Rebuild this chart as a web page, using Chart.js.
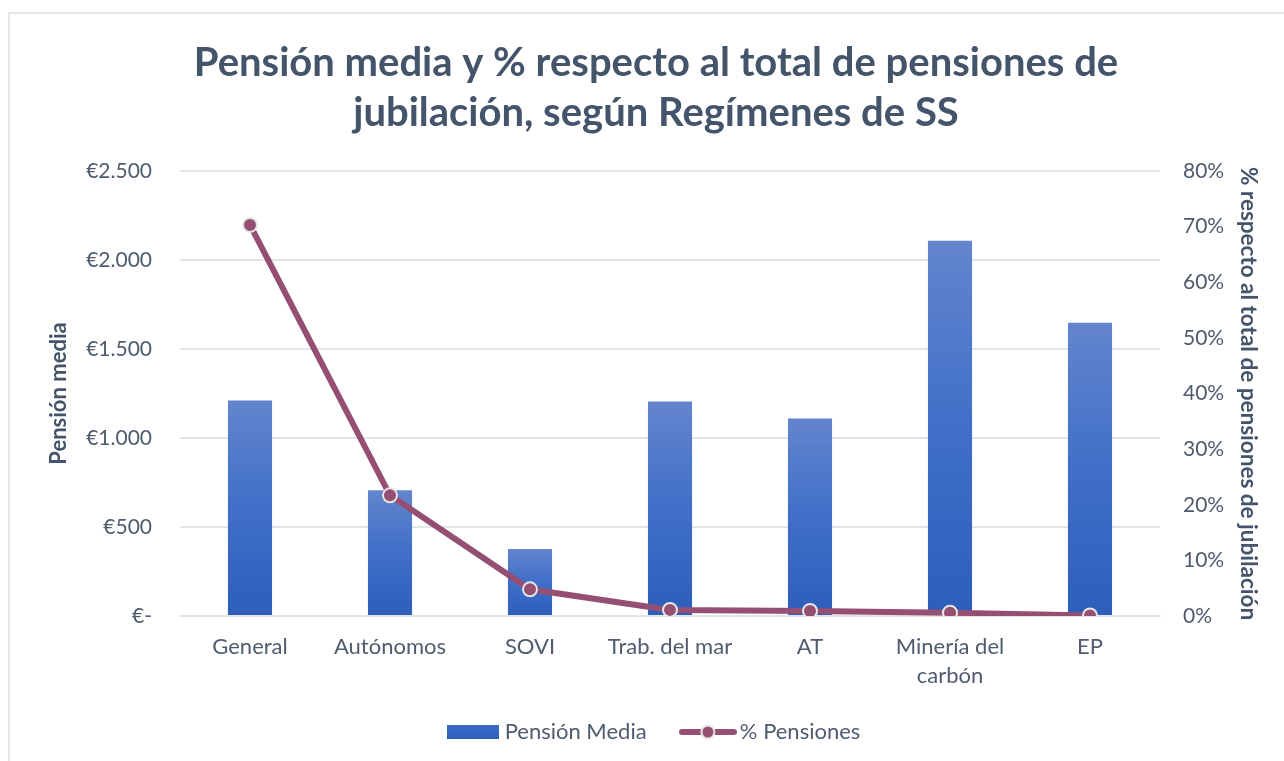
<!DOCTYPE html>
<html>
<head>
<meta charset="utf-8">
<script src="https://cdn.jsdelivr.net/npm/chart.js@4/dist/chart.umd.min.js"></script>
<style>
  html, body { margin: 0; padding: 0; background: #fff; }
  #wrap { position: relative; width: 1284px; height: 761px; }
  #frame { position: absolute; left: 8px; top: 12px; width: 1290px; height: 800px;
           border-left: 2px solid #E4E6EB; border-top: 2px solid #E4E6EB; }
  canvas { position: absolute; left: 0; top: 0; }
</style>
</head>
<body>
<div id="wrap">
  <div id="frame"></div>
  <canvas id="pensionChart" width="1284" height="761"></canvas>
</div>
<script>
var categories = ['General', 'Autónomos', 'SOVI', 'Trab. del mar', 'AT', ['Minería del', 'carbón'], 'EP'];
var pensionMedia = [1211, 706, 376, 1205, 1110, 2108, 1648];
var pctPensiones = [70.3, 21.7, 4.8, 1.1, 0.9, 0.6, 0.1];

var titleLines = ['Pensión media y % respecto al total de pensiones de', 'jubilación, según Regímenes de SS'];
var seriesNames = ['Pensión Media', '% Pensiones'];

var slate = '#44546A';
var tickColor = '#4F5B6E';
var gridColor = '#E1E4EA';
var barTop = '#6385CD';
var barBottom = '#2D5EBB';
var lineColor = '#954F72';

function barGradient(ctx) {
  var chart = ctx.chart;
  var scale = chart.scales && chart.scales.y;
  if (!scale || ctx.raw === undefined || !chart.chartArea) return barBottom;
  var top = scale.getPixelForValue(ctx.raw);
  var bottom = scale.getPixelForValue(0);
  var g = chart.ctx.createLinearGradient(0, top, 0, bottom);
  g.addColorStop(0, barTop);
  g.addColorStop(0.5, '#3F6FC8');
  g.addColorStop(1, barBottom);
  return g;
}

// legend swatches
function makeBarSwatch() {
  var c = document.createElement('canvas');
  c.width = 52; c.height = 14;
  var x = c.getContext('2d');
  var g = x.createLinearGradient(0, 0, 0, 14);
  g.addColorStop(0, '#3B6BC6');
  g.addColorStop(1, barBottom);
  x.fillStyle = g;
  x.fillRect(0, 0, 52, 14);
  return c;
}
function makeLineSwatch() {
  var c = document.createElement('canvas');
  c.width = 58; c.height = 18;
  var x = c.getContext('2d');
  x.strokeStyle = lineColor;
  x.lineWidth = 6;
  x.lineCap = 'round';
  x.beginPath(); x.moveTo(3, 9); x.lineTo(55, 9); x.stroke();
  x.beginPath(); x.arc(29, 9, 6.5, 0, Math.PI * 2);
  x.fillStyle = lineColor; x.fill();
  x.lineWidth = 2; x.strokeStyle = '#E8E8E8'; x.stroke();
  return c;
}
var barSwatch = makeBarSwatch();
var lineSwatch = makeLineSwatch();

var ctx = document.getElementById('pensionChart').getContext('2d');
new Chart(ctx, {
  data: {
    labels: categories,
    datasets: [{
      type: 'bar',
      label: seriesNames[0],
      data: pensionMedia,
      yAxisID: 'y',
      backgroundColor: barGradient,
      barPercentage: 0.315,
      categoryPercentage: 1,
      order: 2
    }, {
      type: 'line',
      label: seriesNames[1],
      data: pctPensiones,
      yAxisID: 'y1',
      borderColor: lineColor,
      backgroundColor: lineColor,
      borderWidth: 6,
      pointRadius: 7,
      pointBackgroundColor: lineColor,
      pointBorderColor: '#E6E6E6',
      pointBorderWidth: 2,
      tension: 0,
      order: 1
    }]
  },
  options: {
    responsive: false,
    animation: false,
    layout: { padding: { top: 0, bottom: 8, left: 28, right: 0 } },
    plugins: {
      tooltip: { enabled: false },
      title: {
        display: true,
        text: titleLines,
        color: slate,
        font: { family: 'Lato', size: 40, weight: 'bold', lineHeight: 1.25 },
        padding: { top: 38, bottom: 33 }
      },
      legend: {
        position: 'bottom',
        labels: {
          usePointStyle: true,
          pointStyleWidth: 42,
          color: '#4F5B6E',
          font: { family: 'Lato', size: 22 },
          padding: 29,
          generateLabels: function(chart) {
            return [
              { text: seriesNames[0] + '  ', pointStyle: barSwatch, datasetIndex: 0, fontColor: '#4F5B6E', lineWidth: 0, hidden: false },
              { text: seriesNames[1], pointStyle: lineSwatch, datasetIndex: 1, fontColor: '#4F5B6E', lineWidth: 0, hidden: false }
            ];
          }
        }
      }
    },
    scales: {
      x: {
        afterFit: function(scale) { scale.height = 76; },
        grid: { display: false, drawTicks: false },
        border: { display: true, color: gridColor, width: 2 },
        ticks: { color: tickColor, font: { family: 'Lato', size: 22, lineHeight: 1.3 }, padding: 17, maxRotation: 0, autoSkip: false }
      },
      y: {
        position: 'left',
        min: 0, max: 2500,
        afterFit: function(scale) { scale.width = 152; },
        grid: { color: gridColor, lineWidth: 2, drawTicks: false },
        border: { display: false },
        ticks: {
          stepSize: 500,
          padding: 28,
          color: tickColor,
          font: { family: 'Lato', size: 21 },
          callback: function(v) { return v === 0 ? '€-' : '€' + v.toLocaleString('de-DE'); }
        },
        title: { display: true, text: 'Pensión media', color: slate, font: { family: 'Lato', size: 22, weight: 'bold' }, padding: { top: 18, bottom: 0 } }
      },
      y1: {
        position: 'right',
        min: 0, max: 80,
        afterFit: function(scale) { scale.width = 124; },
        grid: { display: false, drawTicks: false },
        border: { display: false },
        ticks: {
          stepSize: 10,
          padding: 23,
          color: tickColor,
          font: { family: 'Lato', size: 21 },
          callback: function(v) { return v + '%'; }
        },
        title: { display: true, text: '% respecto al total de pensiones de jubilación', color: slate, font: { family: 'Lato', size: 22.5, weight: 'bold' }, padding: { top: 22, bottom: 0 } }
      }
    }
  }
});
</script>
</body>
</html>
